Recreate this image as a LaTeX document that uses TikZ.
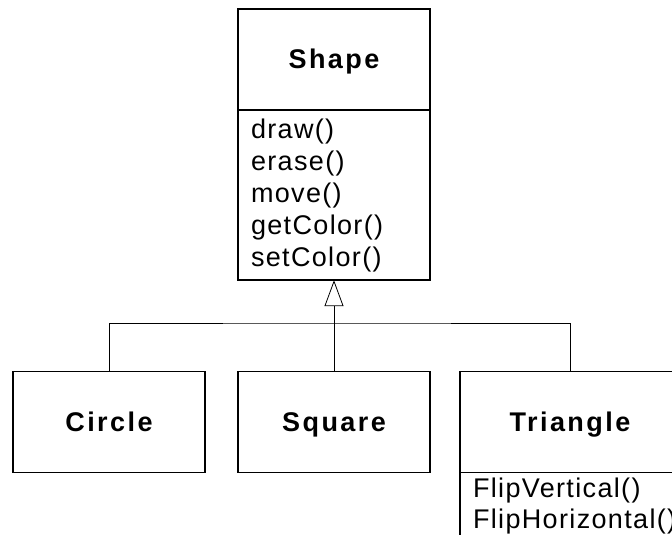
\documentclass[tikz,border=0pt]{standalone}
\usepackage{fontspec}
\newfontfamily\umlfont{Liberation Sans}[LetterSpace=5]
\newfontfamily\umlboldfont{Liberation Sans}[LetterSpace=9]
\usetikzlibrary{arrows.meta}

\begin{document}
\begin{tikzpicture}[x=1pt, y=-1pt,
    classname/.style={draw, line width=1.6pt, outer sep=0pt, inner sep=0pt,
        minimum width=192pt, minimum height=101pt,
        text height=19pt, text depth=0pt,
        font={\umlboldfont\bfseries\fontsize{27}{32}\selectfont}},
    classops/.style={draw, line width=1.6pt, outer sep=0pt,
        inner xsep=13pt, inner ysep=8.5pt, anchor=north west,
        align=left, text width=166pt,
        font={\umlfont\fontsize{27}{32}\selectfont}},
    link/.style={line width=0.8pt}]
    \useasboundingbox (0,0) rectangle (672,535);
    \clip (0,0) rectangle (672,535);

    \node[classname] (shape) at (334, 59.5) {Shape};
    \node[classops, minimum height=165pt] (shapeops) at (shape.south west)
        {draw()\\erase()\\move()\\getColor()\\setColor()};

    \node[classname] (circle) at (109, 422) {Circle};
    \node[classname] (square) at (334, 422) {Square};
    \node[classname, minimum width=220pt] (triangle) at (570, 422) {Triangle};
    \node[classops, text width=240pt, inner ysep=5.5pt, font={\umlfont\fontsize{27}{31}\selectfont}]
        (triangleops) at (triangle.south west)
        {FlipVertical()\\FlipHorizontal()};

    \coordinate (bus) at (334, 323);
    \draw[link, -{Triangle[open, length=26pt, width=19pt]}] (square.north) -- (shapeops.south);
    \draw[link] (circle.north) |- (bus) -| (triangle.north);
\end{tikzpicture}
\end{document}
